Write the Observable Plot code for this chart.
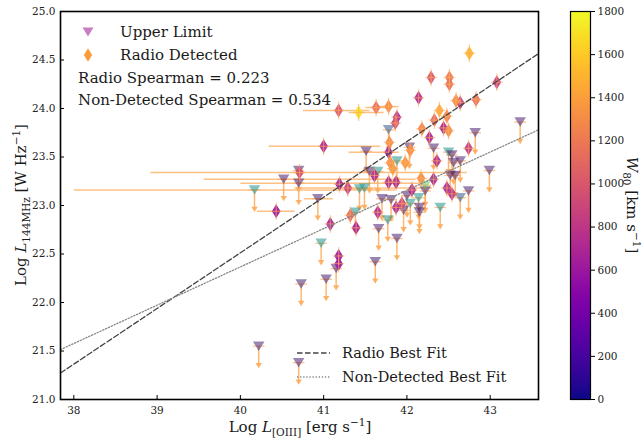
<!DOCTYPE html>
<html><head><meta charset="utf-8">
<script src="https://cdn.jsdelivr.net/npm/d3@7"></script>
<script src="https://cdn.jsdelivr.net/npm/@observablehq/plot@0.6"></script>
<style>
body{margin:0;background:#fff;}
#chart{position:relative;width:643px;height:441px;}
#chart svg{position:absolute;top:0;}
</style></head><body><div id="chart"></div>
<script>
// ---- Radio detected sources (diamonds): log L[OIII], log L144MHz, W80
const detX = [42.75,42.29,42.51,42.51,42.14,43.08,41.78,41.63,41.18,41.42,42.64,42.59,42.83,42.39,41.88,41.86,42.33,42.48,42.18,42.44,42.50,42.27,41.00,41.79,41.78,41.80,41.83,41.98,42.04,42.74,42.36,42.17,42.32,41.78,41.87,41.61,42.06,42.48,42.54,41.19,41.29,40.71,40.43,41.08,41.32,41.39,41.18,41.18,41.65,41.87,41.94];
const detY = [24.57,24.32,24.32,24.25,24.11,24.27,24.02,24.01,23.98,23.96,24.06,24.08,24.09,23.98,23.91,23.85,23.88,23.92,23.79,23.80,23.77,23.70,23.61,23.65,23.55,23.44,23.38,23.44,23.57,23.59,23.46,23.28,23.27,23.24,23.24,23.31,23.16,23.18,23.12,23.22,23.18,23.34,22.94,22.81,22.90,22.77,22.48,22.40,22.93,22.98,23.02];
const detW = [1500,1000,1200,1150,750,850,1300,1150,1000,1700,800,1300,1150,1450,700,900,1100,1250,1250,700,1300,700,700,1300,650,1300,1350,1350,1300,800,700,1300,700,700,700,700,700,700,750,650,850,950,600,650,1100,650,600,600,700,700,900];

// ---- Upper limits (triangles)
const ulX = [40.17,40.52,40.70,40.70,40.93,40.97,40.73,41.03,41.15,41.38,40.22,40.70,41.51,41.78,42.03,41.55,41.65,41.49,41.88,41.70,42.00,42.14,42.22,42.04,42.40,42.64,42.74,41.77,41.66,41.96,42.15,42.15,41.88,41.62,42.82,43.36,42.32,42.50,42.54,42.56,42.64,42.99,42.52,42.58,41.43,41.81,42.22];
const ulY = [23.16,23.27,23.23,23.36,23.07,22.61,22.19,22.24,22.35,22.93,21.55,21.38,23.56,23.78,23.60,23.35,23.35,23.18,23.46,23.07,23.10,23.08,23.15,23.02,22.98,23.08,23.15,22.85,22.76,22.95,22.98,22.93,22.66,22.42,23.75,23.86,23.59,23.55,23.52,23.44,23.46,23.36,23.31,23.31,23.17,23.06,23.21];
const ulW = [900,150,150,150,150,900,150,150,150,900,150,150,150,500,150,150,900,900,900,150,150,900,150,900,900,500,150,900,150,150,150,150,150,150,150,150,150,900,150,150,150,150,150,150,900,150,1400];

// ---- Horizontal error bars (log L144MHz, lower and upper log L[OIII])
const barY  = [23.98,23.96,23.61,22.94,24.01,24.02,23.55,23.34,23.27,23.23,23.16,23.07,23.18];
const barLo = [40.75,41.30,40.34,40.20,41.50,41.65,41.30,38.92,39.56,40.00,38.00,40.76,40.65];
const barHi = [41.55,41.72,41.68,40.65,41.75,41.90,41.90,42.72,42.10,42.16,41.86,41.11,42.30];

// ---- Best fits: intercept, slope
const radioFit = {a: -0.436, b: 0.5737};
const ndFit = {a: 6.579, b: 0.3947};

const xTicks = [38,39,40,41,42,43];
const yTicks = [21.0,21.5,22.0,22.5,23.0,23.5,24.0,24.5,25.0];
const cbTicks = [0,200,400,600,800,1000,1200,1400,1600,1800];
const xDomain = [37.84, 43.58];
const yDomain = [21, 25];
const wDomain = [0, 1800];
const ARROW = 0.2, DYERR = 0.09, DXERR = 0.07;

const FONT = "DejaVu Serif, serif";
const ERR = "#fdab5a";

const det = detX.map((x,i)=>({x, y: detY[i], w: detW[i]}));
const ul = ulX.map((x,i)=>({x, y: ulY[i], w: ulW[i]}));
const bars = barY.map((y,i)=>({y, lo: barLo[i], hi: barHi[i]}));
const fitPts = f => xDomain.map(x => ({x, y: f.a + f.b*x}));

const thinDiamond = {draw(ctx, size){ const r = Math.sqrt(size/Math.PI);
  ctx.moveTo(0,-1.45*r); ctx.lineTo(0.9*r,0); ctx.lineTo(0,1.45*r); ctx.lineTo(-0.9*r,0); ctx.closePath(); }};
const triDown = {draw(ctx, size){ const r = Math.sqrt(size/Math.PI);
  ctx.moveTo(-1.15*r,-0.95*r); ctx.lineTo(1.15*r,-0.95*r); ctx.lineTo(0,0.95*r); ctx.closePath(); }};

const ulScale = Plot.scale({color:{type:"linear", scheme:"viridis", domain: wDomain}});

const main = Plot.plot({
  width: 643, height: 441,
  marginLeft: 60, marginRight: 105, marginTop: 11, marginBottom: 42,
  style: {fontFamily: FONT, fontSize: "10.5px", color: "#222", background: "white"},
  x: {domain: xDomain, label: null},
  y: {domain: yDomain, label: null},
  color: {type: "linear", scheme: "plasma", domain: wDomain},
  marks: [
    Plot.link(bars, {x1:"lo", x2:"hi", y1:"y", y2:"y", stroke: ERR, strokeWidth: 1.5, strokeOpacity: 0.75}),
    Plot.link(ul, {x1:"x", x2:"x", y1:"y", y2: d => d.y - ARROW, stroke: ERR, strokeWidth: 1.5, strokeOpacity: 0.85}),
    Plot.dot(ul, {x:"x", y: d => d.y - ARROW, symbol: triDown, r: 2.8, fill: ERR, fillOpacity: 0.9}),
    Plot.link(ul, {x1: d => d.x - DXERR, x2: d => d.x + DXERR, y1:"y", y2:"y", stroke: ERR, strokeWidth: 1.3, strokeOpacity: 0.7}),
    Plot.dot(ul, {x:"x", y:"y", symbol: triDown, r: 5, fill: d => ulScale.apply(d.w), fillOpacity: 0.55}),
    Plot.dot(det, {x:"x", y:"y", symbol: thinDiamond, r: 4.8, fill: "w", fillOpacity: 0.92}),
    Plot.link(det, {x1:"x", x2:"x", y1: d => d.y - DYERR, y2: d => d.y + DYERR, stroke: ERR, strokeWidth: 1.2, strokeOpacity: 0.6}),
    Plot.link(det, {x1: d => d.x - DXERR, x2: d => d.x + DXERR, y1:"y", y2:"y", stroke: ERR, strokeWidth: 1.2, strokeOpacity: 0.6}),
    Plot.line(fitPts(radioFit), {x:"x", y:"y", stroke:"#444", strokeWidth: 1.3, strokeDasharray: "5.5,2.5"}),
    Plot.line(fitPts(ndFit), {x:"x", y:"y", stroke:"#888", strokeWidth: 1.3, strokeDasharray: "1.3,1.8"}),
    Plot.axisX({ticks: xTicks, tickFormat: d => String(d), tickSize: -4, tickPadding: 11, stroke: "#000"}),
    Plot.axisY({ticks: yTicks, tickFormat: d => d.toFixed(1), tickSize: -4, tickPadding: 9, stroke: "#000"}),
    Plot.frame({stroke: "#000", strokeWidth: 1.6})
  ]
});
main.style.left = "0px";
document.getElementById("chart").appendChild(main);

const cbSteps = d3.range(wDomain[0], wDomain[1], 6);
const cb = Plot.plot({
  width: 83, height: 441,
  marginLeft: 10, marginRight: 53, marginTop: 11, marginBottom: 42,
  style: {fontFamily: FONT, fontSize: "10.5px", color: "#222", background: "transparent"},
  x: {domain: [0,1], axis: null},
  y: {domain: wDomain, label: null},
  color: {type: "linear", scheme: "plasma", domain: wDomain},
  marks: [
    Plot.rect(cbSteps, {x1: 0, x2: 1, y1: d => d, y2: d => Math.min(d + 12, wDomain[1]), fill: d => d + 3, shapeRendering: "crispEdges"}),
    Plot.axisY({anchor: "right", ticks: cbTicks, tickFormat: d => String(d), tickSize: 4, tickPadding: 3, stroke: "#000"}),
    Plot.frame({stroke: "#000", strokeWidth: 1.2})
  ]
});
cb.style.left = "560px";
document.getElementById("chart").appendChild(cb);

// ---- Text labels and legends
const svg = d3.select(main);
function label(x, y, parts, size, anchor, rotate){
  const t = svg.append("text").attr("font-family", FONT).attr("font-size", size).attr("fill", "#1a1a1a")
    .attr("text-anchor", anchor || "start")
    .attr("transform", `translate(${x},${y})` + (rotate ? ` rotate(${rotate})` : ""));
  parts.forEach(p => {
    const s = t.append("tspan").text(p.t);
    if (p.i) s.attr("font-style", "italic");
    if (p.sub) s.attr("font-size", size*0.7).attr("dy", size*0.28);
    if (p.sup) s.attr("font-size", size*0.7).attr("dy", -size*0.38);
    if (p.back) s.attr("dy", p.back);
  });
  return t;
}
label(300, 432, [{t:"Log "},{t:"L", i:1},{t:"[OIII]", sub:1},{t:" [erg s", back: -15*0.28},{t:"\u22121", sup:1},{t:"]", back: 15*0.38}], 15, "middle");
label(26, 205, [{t:"Log "},{t:"L", i:1},{t:"144MHz", sub:1},{t:" [W Hz", back: -15*0.28},{t:"\u22121", sup:1},{t:"]", back: 15*0.38}], 15, "middle", -90);
label(627, 205, [{t:"W", i:1},{t:"80", sub:1},{t:" [km s", back: -15*0.28},{t:"\u22121", sup:1},{t:"]", back: 15*0.38}], 15, "middle", 90);

// top-left legend
const tri = d3.path(); triDown.draw(tri, Math.PI*4.8*4.8);
svg.append("path").attr("d", tri.toString()).attr("transform","translate(88,32)").attr("fill","#c77fc2");
const dia = d3.path(); thinDiamond.draw(dia, Math.PI*4.6*4.6);
svg.append("path").attr("d", dia.toString()).attr("transform","translate(88,55)").attr("fill","#f99d3c");
label(120, 37, [{t:"Upper Limit"}], 15);
label(120, 60, [{t:"Radio Detected"}], 15);
label(78, 83, [{t:"Radio Spearman = 0.223"}], 15);
label(78, 105, [{t:"Non-Detected Spearman = 0.534"}], 15);

// bottom-right legend
svg.append("line").attr("x1",297).attr("x2",330).attr("y1",353).attr("y2",353).attr("stroke","#444").attr("stroke-width",1.3).attr("stroke-dasharray","5.5,2.5");
svg.append("line").attr("x1",297).attr("x2",330).attr("y1",377).attr("y2",377).attr("stroke","#888").attr("stroke-width",1.3).attr("stroke-dasharray","1.3,1.8");
label(342, 358, [{t:"Radio Best Fit"}], 14.5);
label(342, 382, [{t:"Non-Detected Best Fit"}], 14.5);
</script></body></html>
